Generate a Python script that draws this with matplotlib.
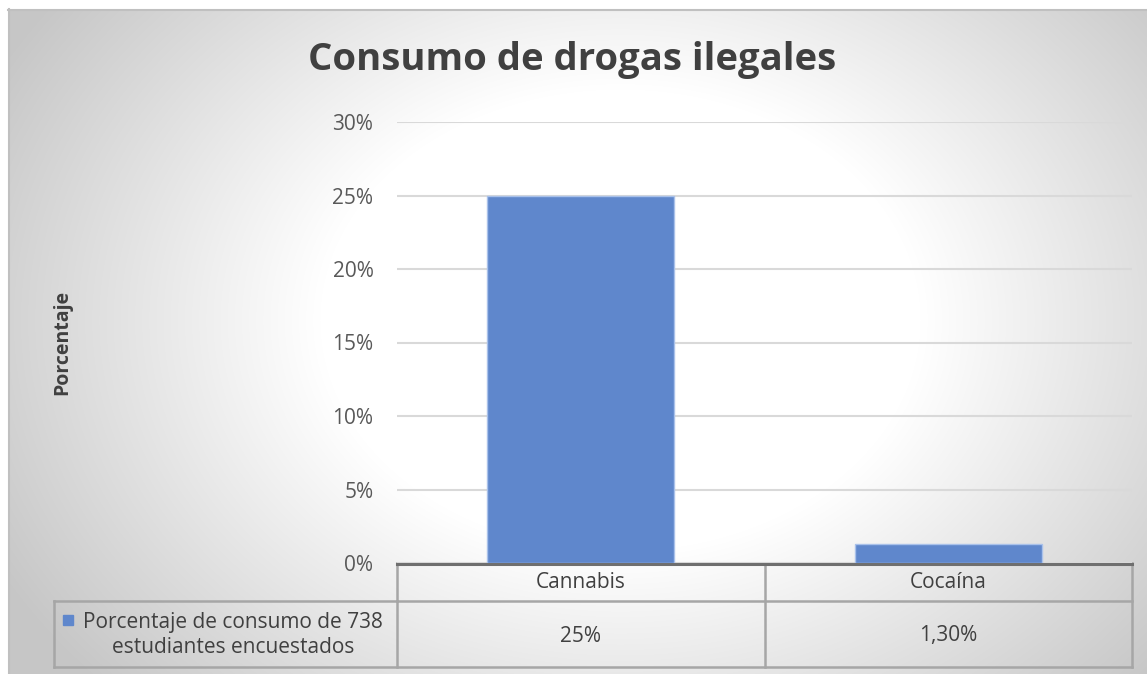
import numpy as np
import matplotlib.pyplot as plt
from matplotlib.patches import Rectangle

# datos
categorias = ["Cannabis", "Cocaína"]
valores = [25.0, 1.3]
etiquetas_tabla = ["25%", "1,30%"]
serie = "Porcentaje de consumo de 738\nestudiantes encuestados"
ticks_y = [0, 5, 10, 15, 20, 25, 30]

W, H = 1147, 674
plt.rcParams['font.family'] = ['Open Sans', 'DejaVu Sans']
gris_txt = "#595959"
oscuro = "#404040"

fig = plt.figure(figsize=(W / 100, H / 100), dpi=100)

# fondo con degradado radial
bg = fig.add_axes([0, 0, 1, 1])
bg.set_xlim(0, W)
bg.set_ylim(H, 0)
bg.axis("off")
xx, yy = np.meshgrid(np.arange(W), np.arange(H))
r = np.hypot(xx - 620, (yy - 320) * 1.3)
v = np.clip(1 - 0.00055 * (r - 300), 0.78, 1)
img = np.dstack([v, v, v])
img[:9, :] = 1
img[:, :8] = 1
bg.imshow(img, extent=(0, W, H, 0), interpolation="bilinear")
bg.plot([8, W], [9.5, 9.5], color="#c0c0c0", lw=1.5)
bg.plot([8.5, 8.5], [9, H], color="#c0c0c0", lw=1.5)

# área de trazado
x0, x1, y0, y1 = 397, 1132, 563, 122
ax = fig.add_axes([x0 / W, 1 - y0 / H, (x1 - x0) / W, (y0 - y1) / H])
ax.patch.set_alpha(0)
ax.set_xlim(-0.5, 1.5)
ax.set_ylim(0, 30)
ax.bar(range(len(valores)), valores, width=0.51, color="#5f87cc",
       edgecolor="#a9c1ea", linewidth=1, zorder=3)
ax.set_yticks(ticks_y)
ax.set_yticklabels([f"{t}%" for t in ticks_y], fontsize=15, color=gris_txt)
ax.set_xticks([])
ax.tick_params(axis="y", length=0, pad=17)
ax.grid(axis="y", color="#d9d9d9", lw=1.5, zorder=0)
for s in ax.spines.values():
    s.set_visible(False)

fig.text(572 / W, 1 - 60 / H, "Consumo de drogas ilegales", ha="center",
         va="center", fontsize=27.5, fontweight="bold", color=oscuro)
fig.text(62 / W, 1 - 342 / H, "Porcentaje", rotation=90, ha="center",
         va="center", fontsize=14, fontweight="bold", color=oscuro)

# tabla de datos
lc = "#a6a6a6"
fila1, fila2 = 601, 667
bg.plot([x0, x1], [y0 + 1, y0 + 1], color="#6f6f6f", lw=2.2, zorder=5)
bg.plot([x0, x1], [fila1, fila1], color=lc, lw=1.8)
bg.plot([54, x1], [fila2, fila2], color=lc, lw=1.8)
bg.plot([54, x0], [fila1, fila1], color=lc, lw=1.8)
bg.plot([54, 54], [fila1, fila2], color=lc, lw=1.8)
bordes = [ax.transData.transform((b, 0))[0] for b in (-0.5, 0.5, 1.5)]
for b in bordes:
    bg.plot([b, b], [y0, fila2], color=lc, lw=1.8)
for i, (cat, et) in enumerate(zip(categorias, etiquetas_tabla)):
    cx = ax.transData.transform((i, 0))[0]
    bg.text(cx, 583, cat, ha="center", va="center", fontsize=15, color=oscuro)
    bg.text(cx, 636, et, ha="center", va="center", fontsize=15, color=oscuro)
bg.add_patch(Rectangle((63, 615), 10, 10, color="#5f87cc"))
bg.text(233, 635, serie, ha="center", va="center", fontsize=15,
        color=oscuro, linespacing=1.3)

fig.savefig("out.png", dpi=100)
